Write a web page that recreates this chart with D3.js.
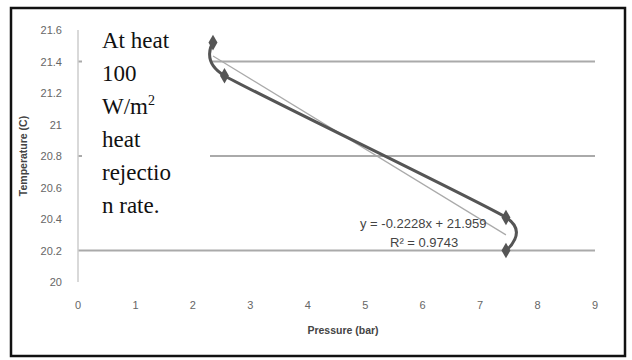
<!DOCTYPE html>
<html>
<head>
<meta charset="utf-8">
<script src="https://cdn.jsdelivr.net/npm/d3@7"></script>
<style>
body { margin: 0; background: #fff; }
.note { font-family: "Liberation Serif", "Times New Roman", serif; }
</style>
</head>
<body>
<script>
var pressure = [2.35, 2.55, 7.45, 7.45];
var temperature = [21.52, 21.31, 20.41, 20.2];
var xTicks = [0, 1, 2, 3, 4, 5, 6, 7, 8, 9];
var yTicks = [20, 20.2, 20.4, 20.6, 20.8, 21, 21.2, 21.4, 21.6];
var gridValues = [21.4, 20.8, 20.2];
var slope = -0.2228, intercept = 21.959;
var noteLines = ["At heat", "100", "W/m", "heat", "rejectio", "n rate."];

var width = 632, height = 360;
var sans = "'Liberation Sans', Arial, sans-serif";

var svg = d3.select("body").append("svg")
    .attr("width", width)
    .attr("height", height);

// outer frame
svg.append("rect")
    .attr("x", 11).attr("y", 8)
    .attr("width", 614).attr("height", 348)
    .attr("fill", "#fff")
    .attr("stroke", "#111")
    .attr("stroke-width", 2.5);

var x = d3.scaleLinear().domain([0, 9]).range([78, 595]);
var y = d3.scaleLinear().domain([20, 21.6]).range([282, 30]);

// gridlines
svg.append("g").selectAll("line")
    .data(gridValues)
    .enter().append("line")
    .attr("x1", x(0)).attr("x2", x(9))
    .attr("y1", function(d) { return y(d); })
    .attr("y2", function(d) { return y(d); })
    .attr("stroke", "#aaa")
    .attr("stroke-width", 2);

// y axis line
svg.append("line")
    .attr("x1", x(0)).attr("x2", x(0))
    .attr("y1", y(21.6)).attr("y2", y(20))
    .attr("stroke", "#ccc")
    .attr("stroke-width", 1.5);

// tick labels
svg.append("g").selectAll("text")
    .data(yTicks)
    .enter().append("text")
    .attr("x", 62)
    .attr("y", function(d) { return y(d) + 4; })
    .attr("text-anchor", "end")
    .attr("font-family", sans)
    .attr("font-size", 11)
    .attr("fill", "#666")
    .text(function(d) { return d; });

svg.append("g").selectAll("text")
    .data(xTicks)
    .enter().append("text")
    .attr("x", function(d) { return x(d); })
    .attr("y", 309)
    .attr("text-anchor", "middle")
    .attr("font-family", sans)
    .attr("font-size", 11)
    .attr("fill", "#666")
    .text(function(d) { return d; });

// axis titles
svg.append("text")
    .attr("x", 343).attr("y", 334)
    .attr("text-anchor", "middle")
    .attr("font-family", sans)
    .attr("font-size", 10.5)
    .attr("font-weight", "bold")
    .attr("fill", "#444")
    .text("Pressure (bar)");

svg.append("text")
    .attr("transform", "translate(27,156) rotate(-90)")
    .attr("text-anchor", "middle")
    .attr("font-family", sans)
    .attr("font-size", 10.5)
    .attr("font-weight", "bold")
    .attr("fill", "#444")
    .text("Temperature (C)");

// note box covers part of the grid
svg.append("rect")
    .attr("x", 82).attr("y", 24)
    .attr("width", 128).attr("height", 200)
    .attr("fill", "#fff");

var note = svg.append("g").selectAll("text")
    .data(noteLines)
    .enter().append("text")
    .attr("class", "note")
    .attr("x", 102)
    .attr("y", function(d, i) { return 48 + i * 33; })
    .attr("font-size", 23)
    .attr("fill", "#111")
    .text(function(d) { return d; });

note.filter(function(d) { return d === "W/m"; })
    .append("tspan")
    .attr("dy", -9)
    .attr("font-size", 14)
    .text("2");

// trendline
var xMin = d3.min(pressure), xMax = d3.max(pressure);
svg.append("line")
    .attr("x1", x(xMin)).attr("y1", y(slope * xMin + intercept))
    .attr("x2", x(xMax)).attr("y2", y(slope * xMax + intercept))
    .attr("stroke", "#aaa")
    .attr("stroke-width", 1.2);

// data line
var pts = pressure.map(function(p, i) { return [p, temperature[i]]; });
var line = d3.line()
    .x(function(d) { return x(d[0]); })
    .y(function(d) { return y(d[1]); })
    .curve(d3.curveCardinal.tension(0.5));

svg.append("path")
    .datum(pts)
    .attr("d", line)
    .attr("fill", "none")
    .attr("stroke", "#555")
    .attr("stroke-width", 3);

svg.append("g").selectAll("path")
    .data(pts)
    .enter().append("path")
    .attr("transform", function(d) { return "translate(" + x(d[0]) + "," + y(d[1]) + ")"; })
    .attr("d", d3.symbol().type(d3.symbolDiamond).size(70))
    .attr("fill", "#555");

// equation labels
svg.append("text")
    .attr("x", 360).attr("y", 228)
    .attr("font-family", sans)
    .attr("font-size", 13)
    .attr("fill", "#444")
    .text("y = -0.2228x + 21.959");

svg.append("text")
    .attr("x", 390).attr("y", 247)
    .attr("font-family", sans)
    .attr("font-size", 13)
    .attr("fill", "#444")
    .text("R² = 0.9743");
</script>
</body>
</html>
